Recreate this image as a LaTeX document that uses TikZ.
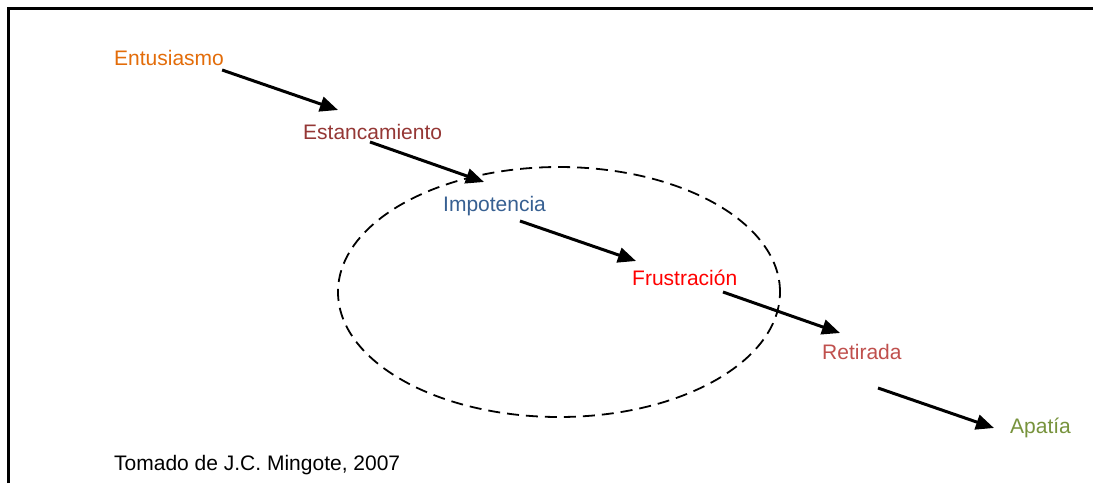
\documentclass[tikz,border=0pt]{standalone}
\usepackage{fontspec}
\setmainfont{Liberation Sans}
\usetikzlibrary{arrows.meta}
\definecolor{cEnt}{HTML}{E36C09}
\definecolor{cEst}{HTML}{953735}
\definecolor{cImp}{HTML}{376092}
\definecolor{cFru}{HTML}{FF0000}
\definecolor{cRet}{HTML}{C0504D}
\definecolor{cApa}{HTML}{77933C}
\tikzset{
  lbl/.style={inner sep=0pt, anchor=base west, font=\fontsize{21}{25}\selectfont},
  arr/.style={line width=3pt, -{Triangle[length=18pt,width=15pt]}},
  frame/.style={line width=3pt},
  ring/.style={line width=1.8pt, dash pattern=on 12pt off 7pt}
}
\begin{document}
\begin{tikzpicture}[x=1pt,y=-1pt]
\useasboundingbox[fill=white] (0,0) rectangle (1093,483);
\draw[frame] (8,483) -- (8,8) -- (1093,8);
\draw[ring] (559,292) ellipse [x radius=221pt, y radius=125pt];
\node[lbl, text=cEnt] (ent) at (114,65) {Entusiasmo};
\node[lbl, text=cEst] (est) at (303,139) {Estancamiento};
\node[lbl, text=cImp] (imp) at (443,211) {Impotencia};
\node[lbl, text=cFru] (fru) at (632,285) {Frustración};
\node[lbl, text=cRet] (ret) at (822,359) {Retirada};
\node[lbl, text=cApa] (apa) at (1010,433) {Apatía};
\node[lbl] (src) at (114,470) {Tomado de J.C. Mingote, 2007};
\draw[arr] ([shift={(-2,5)}]ent.base east) -- ([shift={(35,-29)}]est.base west);
\draw[arr] ([shift={(67,3)}]est.base west) -- ([shift={(41,-29)}]imp.base west);
\draw[arr] ([shift={(77,10)}]imp.base west) -- ([shift={(4,-24)}]fru.base west);
\draw[arr] ([shift={(91,7)}]fru.base west) -- ([shift={(18,-26)}]ret.base west);
\draw[arr] ([shift={(56,29)}]ret.base west) -- ([shift={(-16,-5)}]apa.base west);
\end{tikzpicture}
\end{document}
